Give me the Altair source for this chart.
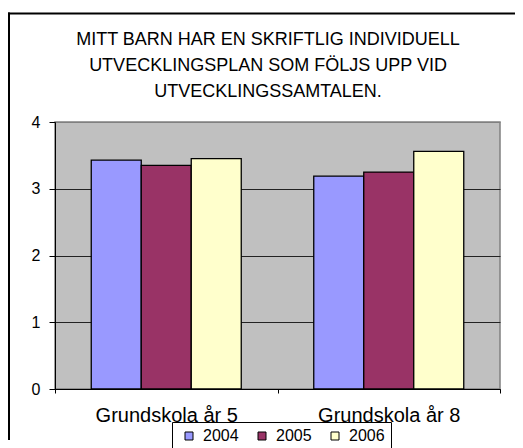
import altair as alt
import pandas as pd

categories = ["Grundskola år 5", "Grundskola år 8"]
years = ["2004", "2005", "2006"]
values_2004 = [3.43, 3.19]
values_2005 = [3.35, 3.25]
values_2006 = [3.45, 3.56]
colors = ["#9999FF", "#993366", "#FFFFCC"]
title_lines = [
    "MITT BARN HAR EN SKRIFTLIG INDIVIDUELL",
    "UTVECKLINGSPLAN SOM FÖLJS UPP VID",
    "UTVECKLINGSSAMTALEN.",
]

rows = []
for yr, vals in zip(years, [values_2004, values_2005, values_2006]):
    for c, v in zip(categories, vals):
        rows.append({"cat": c, "year": yr, "value": v})
df = pd.DataFrame(rows)

FONT = "Liberation Sans"

bars = alt.Chart(df).mark_bar(stroke="black", strokeWidth=1.3, opacity=1).encode(
    x=alt.X("cat:N", sort=categories, title=None,
            scale=alt.Scale(paddingInner=0, paddingOuter=0),
            axis=alt.Axis(labelAngle=0, tickBand="extent", domainColor="black",
                          tickColor="black", tickSize=4, labelFontSize=20,
                          labelFont=FONT, labelColor="black", labelPadding=12,
                          grid=False)),
    xOffset=alt.XOffset("year:N", sort=years,
                        scale=alt.Scale(paddingInner=0, paddingOuter=0.725)),
    y=alt.Y("value:Q", title=None,
            scale=alt.Scale(domain=[0, 4], nice=False),
            axis=alt.Axis(values=[0, 1, 2, 3, 4], domainColor="black",
                          tickColor="black", tickSize=6, labelFontSize=16,
                          labelFont=FONT, labelColor="black", labelPadding=9,
                          grid=True,
                          gridColor={"condition": {"test": "datum.value == 4", "value": "#808080"},
                                     "value": "#222222"},
                          gridWidth=1)),
    color=alt.Color("year:N", sort=years,
                    scale=alt.Scale(domain=years, range=colors),
                    legend=alt.Legend(title=None, orient="none", legendX=117, legendY=300,
                                      direction="horizontal", symbolType="square",
                                      symbolSize=64, symbolStrokeColor="black",
                                      symbolStrokeWidth=1, symbolOpacity=1,
                                      labelFontSize=16, labelFont=FONT, labelColor="black",
                                      strokeColor="black", fillColor="white",
                                      padding=6, symbolOffset=3, columnPadding=12,
                                      labelOffset=6)),
)

one = pd.DataFrame({"a": [0]})
frame_top = alt.Chart(one).mark_rule(color="black", strokeWidth=2).encode(
    x=alt.value(-47), x2=alt.value(460), y=alt.value(-108.5),
)
frame_left = alt.Chart(one).mark_rule(color="black", strokeWidth=2).encode(
    x=alt.value(-46), y=alt.value(-109.5), y2=alt.value(318),
)

title = alt.Chart(one).mark_text(
    text=title_lines, font=FONT, fontSize=18, color="black", align="center",
    baseline="top", lineHeight=26,
).encode(x=alt.value(213), y=alt.value(-91))

chart = alt.layer(bars, frame_top, frame_left, title).properties(
    width=445, height=267,
    autosize=alt.AutoSizeParams(type="none"),
    padding={"left": 47, "top": 114, "right": 15, "bottom": 59},
).configure_view(fill="#C0C0C0", stroke="#808080", strokeWidth=1.5)

chart.save("out.html", embed_options={"renderer": "svg", "actions": False})
